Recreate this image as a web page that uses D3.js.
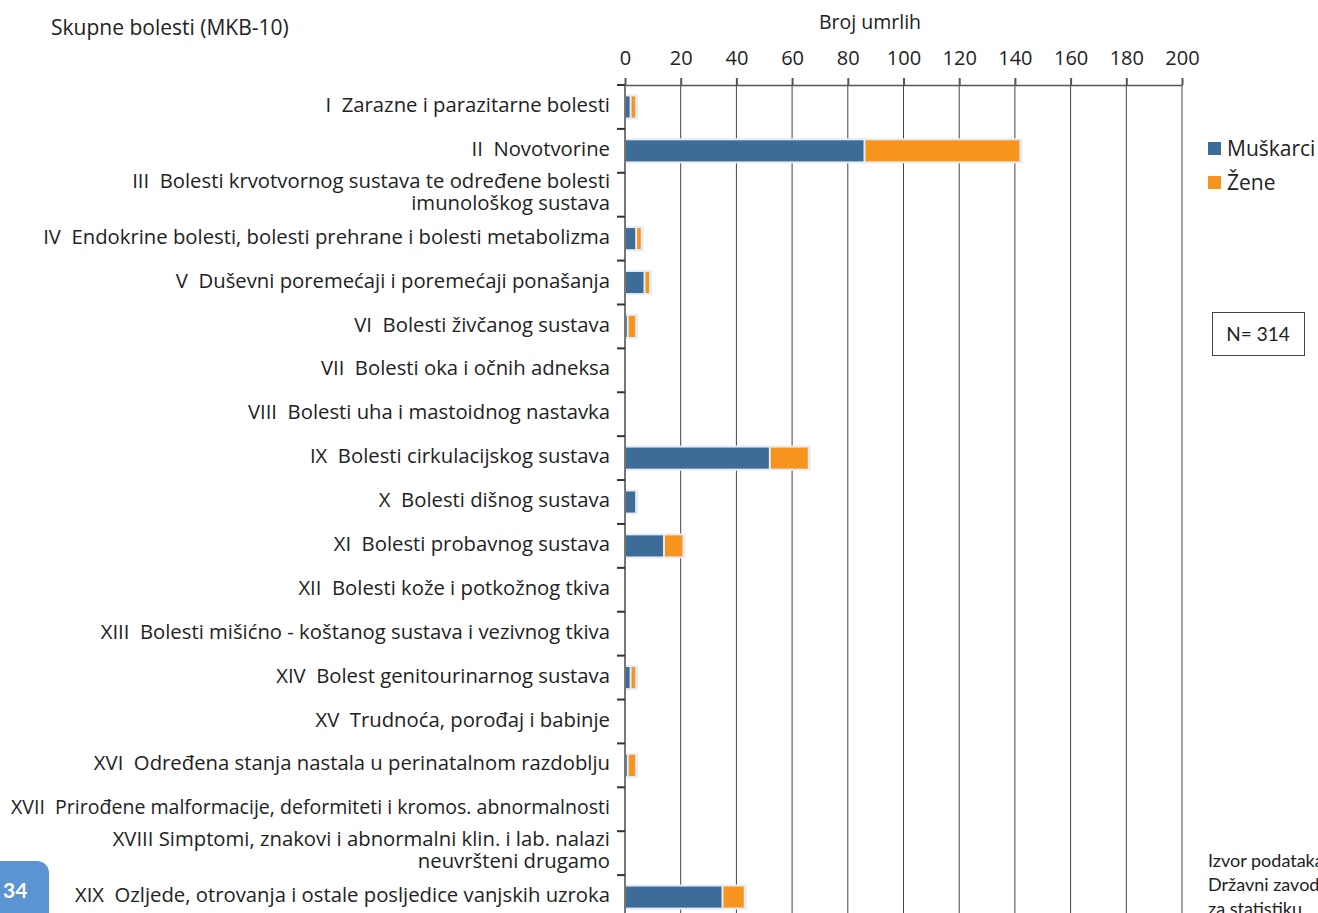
<!DOCTYPE html>
<meta charset="utf-8">
<style>

body {
  margin: 0;
  background: #fff;
  overflow: hidden;
}

svg {
  display: block;
  font-family: "Open Sans", sans-serif;
}

.x.axis text {
  font-size: 20px;
  font-family: "Open Sans", sans-serif;
  fill: #222;
}

.x.axis .domain,
.x.axis line {
  stroke: #555;
}

.cat {
  font-size: 20.3px;
  fill: #222;
  white-space: pre;
}

</style>
<body>
<script src="https://cdn.jsdelivr.net/npm/d3@7"></script>
<script>

var width = 1318,
    height = 913;

var categories = [
  "I  Zarazne i parazitarne bolesti",
  "II  Novotvorine",
  "III  Bolesti krvotvornog sustava te određene bolesti|imunološkog sustava",
  "IV  Endokrine bolesti, bolesti prehrane i bolesti metabolizma",
  "V  Duševni poremećaji i poremećaji ponašanja",
  "VI  Bolesti živčanog sustava",
  "VII  Bolesti oka i očnih adneksa",
  "VIII  Bolesti uha i mastoidnog nastavka",
  "IX  Bolesti cirkulacijskog sustava",
  "X  Bolesti dišnog sustava",
  "XI  Bolesti probavnog sustava",
  "XII  Bolesti kože i potkožnog tkiva",
  "XIII  Bolesti mišićno - koštanog sustava i vezivnog tkiva",
  "XIV  Bolest genitourinarnog sustava",
  "XV  Trudnoća, porođaj i babinje",
  "XVI  Određena stanja nastala u perinatalnom razdoblju",
  "XVII  Prirođene malformacije, deformiteti i kromos. abnormalnosti",
  "XVIII Simptomi, znakovi i abnormalni klin. i lab. nalazi|neuvršteni drugamo",
  "XIX  Ozljede, otrovanja i ostale posljedice vanjskih uzroka"
];

var muskarci = [2, 86, 0, 4, 7, 1, 0, 0, 52, 4, 14, 0, 0, 2, 0, 1, 0, 0, 35];
var zene     = [2, 56, 0, 2, 2, 3, 0, 0, 14, 0, 7, 0, 0, 2, 0, 3, 0, 0, 8];

var seriesNames = ["Muškarci", "Žene"];
var colors = ["#3e6c98", "#f7941e"];
var xTicks = [0, 20, 40, 60, 80, 100, 120, 140, 160, 180, 200];

var rows = categories.map(function(c, i) {
  return {name: c, m: muskarci[i], z: zene[i]};
});

var axisY = 85,
    labelX = 610,
    labelMax = 599;

var x = d3.scaleLinear()
    .domain([0, 200])
    .range([625, 1182]);

var y = d3.scaleBand()
    .domain(categories)
    .range([axisY, 919])
    .paddingInner(0.52)
    .paddingOuter(0.26);

var step = y.step();

var svg = d3.select("body").append("svg")
    .attr("width", width)
    .attr("height", height);

// gridlines
svg.append("g").selectAll("line")
    .data(xTicks.slice(1))
  .enter().append("line")
    .attr("x1", function(d) { return x(d); })
    .attr("x2", function(d) { return x(d); })
    .attr("y1", axisY)
    .attr("y2", height)
    .attr("stroke", "#444")
    .attr("stroke-width", 1);

// bars
var bar = svg.append("g").selectAll("g")
    .data(rows.filter(function(d) { return d.m + d.z > 0; }))
  .enter().append("g");

bar.append("rect")
    .attr("x", x(0) - 1)
    .attr("y", function(d) { return y(d.name) - 2; })
    .attr("width", function(d) { return x(d.m + d.z) - x(0) + 3; })
    .attr("height", y.bandwidth() + 4)
    .attr("fill", "#e6ecf4");

bar.append("rect")
    .attr("x", x(0) + 1)
    .attr("y", function(d) { return y(d.name); })
    .attr("width", function(d) { return Math.max(0, x(d.m) - x(0) - 2); })
    .attr("height", y.bandwidth())
    .attr("fill", colors[0]);

bar.append("rect")
    .attr("x", function(d) { return x(d.m) + 1; })
    .attr("y", function(d) { return y(d.name); })
    .attr("width", function(d) { return Math.max(0, x(d.m + d.z) - x(d.m) - 2); })
    .attr("height", y.bandwidth())
    .attr("fill", colors[1]);

// top axis
svg.append("g")
    .attr("class", "x axis")
    .attr("transform", "translate(0," + axisY + ")")
    .call(d3.axisTop(x).tickValues(xTicks).tickSize(7).tickSizeOuter(0).tickPadding(13))
    .call(function(g) {
      g.select(".domain").attr("stroke-width", 1.5);
      g.selectAll(".tick line").attr("stroke", "#333").attr("stroke-width", 2);
    });

svg.append("text")
    .attr("x", 870)
    .attr("y", 29)
    .attr("text-anchor", "middle")
    .style("font-size", "19.5px")
    .attr("fill", "#222")
    .text("Broj umrlih");

// left axis
svg.append("line")
    .attr("x1", x(0))
    .attr("x2", x(0))
    .attr("y1", axisY)
    .attr("y2", height)
    .attr("stroke", "#777")
    .attr("stroke-width", 2);

svg.append("g").selectAll("line")
    .data(d3.range(categories.length + 1))
  .enter().append("line")
    .attr("x1", x(0) - 8)
    .attr("x2", x(0))
    .attr("y1", function(i) { return axisY + i * step; })
    .attr("y2", function(i) { return axisY + i * step; })
    .attr("stroke", "#333")
    .attr("stroke-width", 2);

// category labels
var label = svg.append("g").selectAll("text")
    .data(categories)
  .enter().append("text")
    .attr("class", "cat")
    .attr("text-anchor", "end")
    .attr("x", labelX)
    .attr("y", function(d) { return y(d) + y.bandwidth() / 2 - 2; });

label.each(function(d) {
  var lines = d.split("|"),
      t = d3.select(this);
  lines.forEach(function(l, j) {
    var ts = t.append("tspan")
        .attr("x", labelX)
        .attr("dy", j == 0 ? (lines.length > 1 ? "-0.25em" : "0.35em") : "1.1em")
        .text(l);
    // squeeze the longest label so it stays inside the page, as in the original
    if (ts.node().getComputedTextLength() > labelMax) {
      ts.attr("textLength", labelMax).attr("lengthAdjust", "spacingAndGlyphs");
    }
  });
});

svg.append("text")
    .attr("x", 51)
    .attr("y", 35)
    .style("font-size", "21px")
    .attr("fill", "#222")
    .text("Skupne bolesti (MKB-10)");

// legend
var legend = svg.append("g").selectAll("g")
    .data(seriesNames)
  .enter().append("g")
    .attr("transform", function(d, i) { return "translate(1208," + (142 + i * 34) + ")"; });

legend.append("rect")
    .attr("width", 13)
    .attr("height", 13)
    .attr("fill", function(d, i) { return colors[i]; });

legend.append("text")
    .attr("x", 19)
    .attr("y", 14)
    .style("font-size", "21px")
    .attr("fill", "#222")
    .text(function(d) { return d; });

// N box
svg.append("rect")
    .attr("x", 1212.5)
    .attr("y", 312.5)
    .attr("width", 92)
    .attr("height", 43)
    .attr("fill", "#fff")
    .attr("stroke", "#444");

svg.append("text")
    .attr("x", 1258)
    .attr("y", 341)
    .attr("text-anchor", "middle")
    .style("font-size", "19px")
    .style("font-family", "Lato, sans-serif")
    .attr("fill", "#222")
    .text("N= 314");

// source note
svg.append("g").selectAll("text")
    .data(["Izvor podataka:", "Državni zavod", "za statistiku"])
  .enter().append("text")
    .attr("x", 1208)
    .attr("y", function(d, i) { return 867 + i * 24; })
    .style("font-size", "18px")
    .style("font-family", "Lato, sans-serif")
    .attr("fill", "#222")
    .text(function(d) { return d; });

// page number
svg.append("path")
    .attr("d", "M0,861H37A12,12 0 0 1 49,873V913H0Z")
    .attr("fill", "#5b93d3");

svg.append("text")
    .attr("x", 3)
    .attr("y", 898)
    .style("font-size", "21px")
    .style("font-weight", "bold")
    .style("font-family", "Lato, sans-serif")
    .attr("fill", "#fff")
    .text("34");

</script>
